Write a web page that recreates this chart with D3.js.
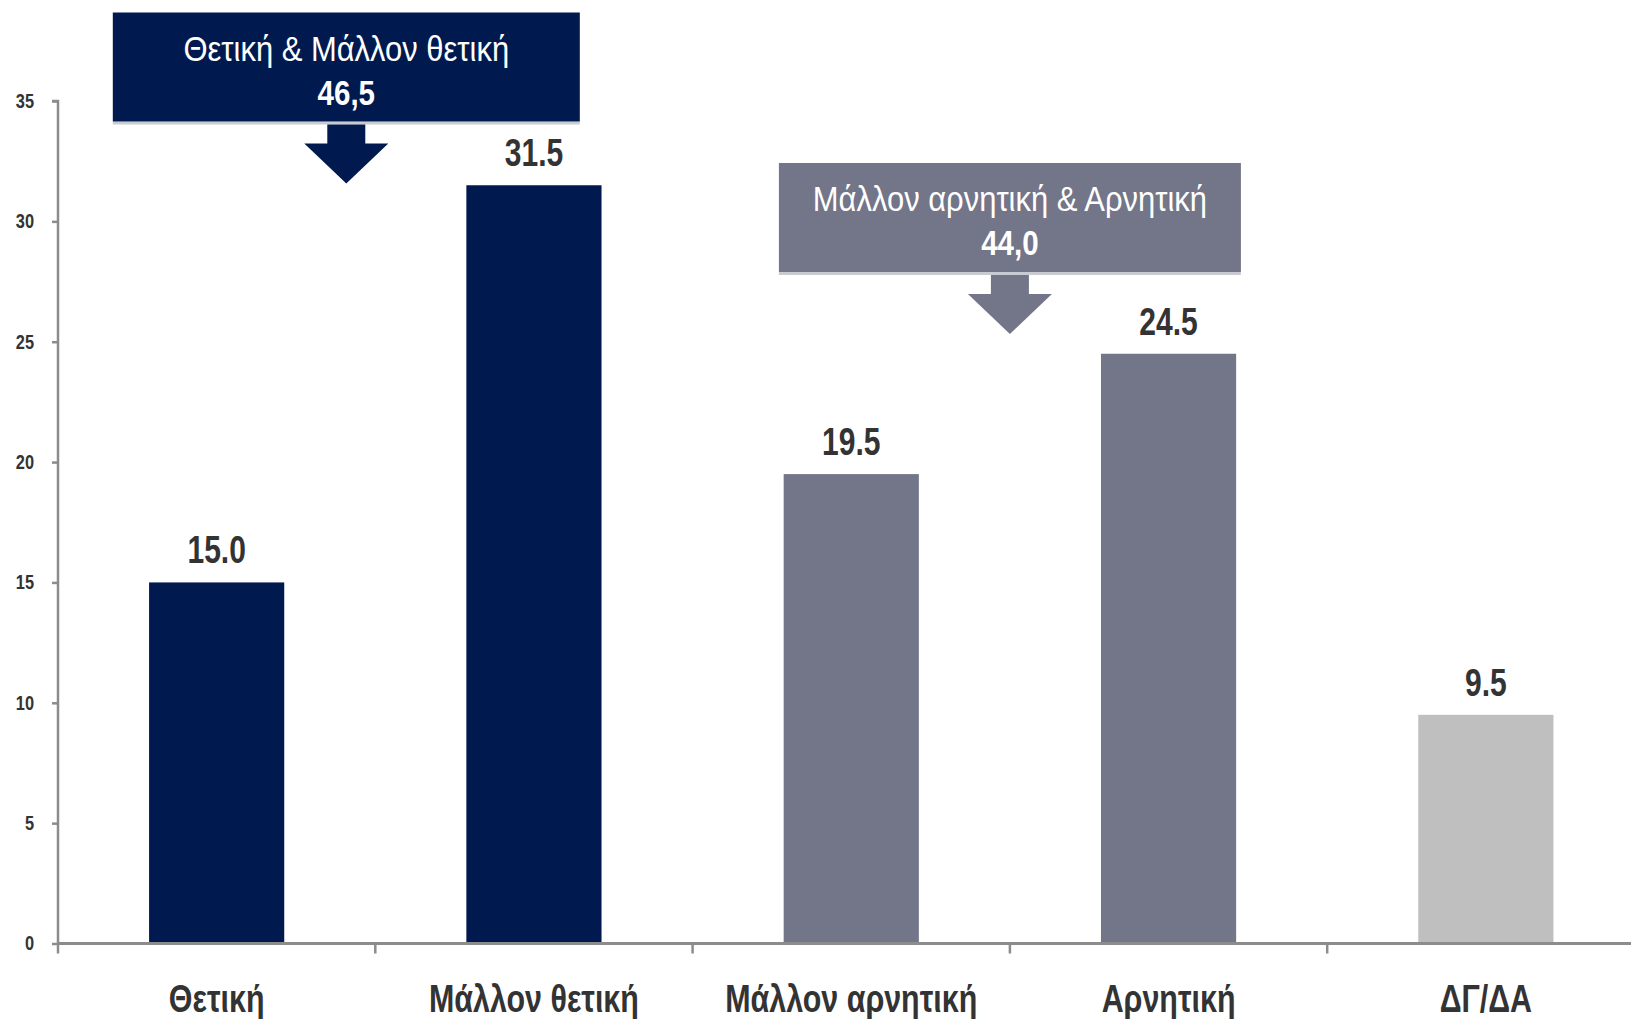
<!DOCTYPE html>
<html><head><meta charset="utf-8">
<script src="https://cdn.jsdelivr.net/npm/d3@7"></script>
<style>
html,body{margin:0;padding:0;background:#fff;}
svg{display:block;}
text{font-family:"Liberation Sans Narrow","Arial Narrow","Liberation Sans",Arial,sans-serif;}
</style></head>
<body>
<svg id="chart" width="1631" height="1019"></svg>
<script>
const categories = ["Θετική","Μάλλον θετική","Μάλλον αρνητική","Αρνητική","ΔΓ/ΔΑ"];
const values = [15.0, 31.5, 19.5, 24.5, 9.5];
const valueLabels = ["15.0","31.5","19.5","24.5","9.5"];
const barColors = ["#001A4F","#001A4F","#737589","#737589","#BFBFBF"];
const yTicks = [0,5,10,15,20,25,30,35];
const groupTitles = ["Θετική & Μάλλον θετική","Μάλλον αρνητική & Αρνητική"];
const groupTotals = ["46,5","44,0"];
const groupColors = ["#001A4F","#737589"];

const svg = d3.select("#chart");
const left = 58, bandW = 317.3, baseY = 943.5, topY = 101;
const x = d3.scaleBand().domain(categories).range([left, left + bandW*categories.length]).paddingInner(0.574).paddingOuter(0.287);
const xb = d3.scaleBand().domain(categories).range([left, left + bandW*categories.length]).padding(0);
const y = d3.scaleLinear().domain([0,35]).range([baseY, topY]);

function narrow(sel, fx, fy, k){
  sel.attr("x",0).attr("y",0)
     .attr("transform",(d,i)=>`translate(${fx(d,i)},${fy(d,i)}) scale(${k},1)`);
}

// bars
svg.selectAll("rect.bar").data(values).join("rect").attr("class","bar")
  .attr("x",(d,i)=>x(categories[i])).attr("width",x.bandwidth())
  .attr("y",d=>y(d)).attr("height",d=>y(0)-y(d)).attr("fill",(d,i)=>barColors[i]);

// value labels
svg.selectAll("text.val").data(values).join("text").attr("class","val")
  .attr("text-anchor","middle").attr("font-size",38).attr("font-weight","bold").attr("fill","#333")
  .text((d,i)=>valueLabels[i])
  .call(narrow,(d,i)=>x(categories[i])+x.bandwidth()/2,d=>y(d)-19,0.79);

// y axis
const yAxis = d3.axisLeft(y).tickValues(yTicks).tickSize(6).tickPadding(18).tickFormat(d3.format("d"));
const gy = svg.append("g").attr("transform",`translate(${left},0)`).call(yAxis);
gy.select(".domain").attr("stroke","#8c8c8c").attr("stroke-width",2.5).attr("d",`M-6,${topY}H0V${baseY}`);
gy.selectAll(".tick line").attr("stroke","#8c8c8c").attr("stroke-width",2.5);
gy.selectAll(".tick text").attr("font-size",20).attr("font-weight","bold").attr("fill","#333")
  .style("font-family",'"Liberation Sans Narrow","Arial Narrow","Liberation Sans",Arial,sans-serif')
  .attr("dy","0.32em")
  .attr("x",null)
  .attr("transform","translate(-24,0) scale(0.82,1)");

// x axis
const gx = svg.append("g").attr("transform",`translate(0,${baseY})`);
gx.append("line").attr("x1",left).attr("x2",1631).attr("stroke","#8c8c8c").attr("stroke-width",3);
gx.selectAll("line.tk").data(categories).join("line").attr("class","tk")
  .attr("x1",d=>xb(d)).attr("x2",d=>xb(d)).attr("y1",0).attr("y2",10)
  .attr("stroke","#8c8c8c").attr("stroke-width",2.5);
gx.selectAll("text.cat").data(categories).join("text").attr("class","cat")
  .attr("text-anchor","middle").attr("font-size",39).attr("font-weight","bold").attr("fill","#333")
  .text(d=>d)
  .call(narrow,d=>xb(d)+xb.bandwidth()/2,()=>68,0.78);

// group annotations
const groups = [
  {cx: xb(categories[1]) - 29, top: 12.5, w: 467},
  {cx: xb(categories[3]), top: 163, w: 462}
];
groups.forEach((g,i)=>{
  const h = 109;
  const ga = svg.append("g");
  ga.append("rect").attr("x",g.cx-g.w/2).attr("y",g.top+h).attr("width",g.w).attr("height",3).attr("fill","#c9cbd3");
  ga.append("rect").attr("x",g.cx-g.w/2).attr("y",g.top).attr("width",g.w).attr("height",h).attr("fill",groupColors[i]);
  const b = g.top+h+3, sw=19, hw=42, hs=b+19, tip=b+59;
  ga.append("path").attr("d",`M${g.cx-sw},${b}H${g.cx+sw}V${hs}H${g.cx+hw}L${g.cx},${tip}L${g.cx-hw},${hs}H${g.cx-sw}Z`).attr("fill",groupColors[i]);
  ga.append("text").attr("text-anchor","middle").attr("font-size",36).attr("fill","#fff").text(groupTitles[i])
    .attr("transform",`translate(${g.cx},${g.top+48}) scale(0.86,1)`);
  ga.append("text").attr("text-anchor","middle").attr("font-size",36).attr("font-weight","bold").attr("fill","#fff").text(groupTotals[i])
    .attr("transform",`translate(${g.cx},${g.top+92}) scale(0.82,1)`);
});
</script>
</body></html>
